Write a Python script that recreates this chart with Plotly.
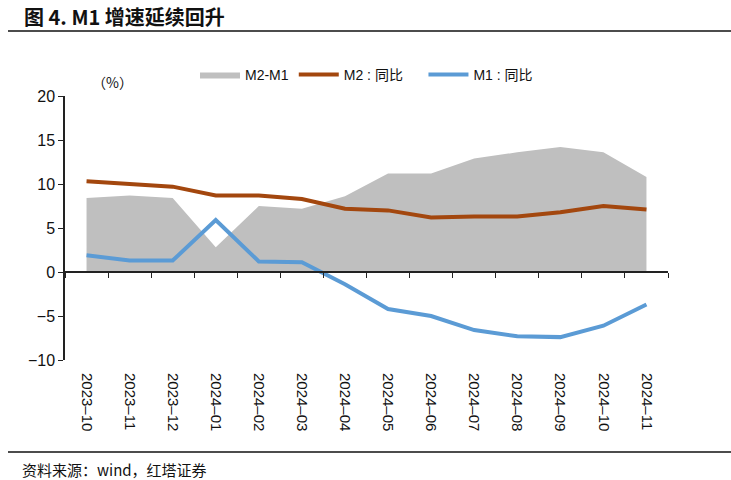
import plotly.graph_objects as go

months = ["2023-10", "2023-11", "2023-12", "2024-01", "2024-02", "2024-03", "2024-04",
          "2024-05", "2024-06", "2024-07", "2024-08", "2024-09", "2024-10", "2024-11"]
month_labels = [m.replace("-", "\u2013") for m in months]
m2_yoy = [10.3, 10.0, 9.7, 8.7, 8.7, 8.3, 7.2, 7.0, 6.2, 6.3, 6.3, 6.8, 7.5, 7.1]
m1_yoy = [1.9, 1.3, 1.3, 5.9, 1.2, 1.1, -1.4, -4.2, -5.0, -6.6, -7.3, -7.4, -6.1, -3.7]
m2_m1 = [8.4, 8.7, 8.4, 2.8, 7.5, 7.2, 8.6, 11.2, 11.2, 12.9, 13.6, 14.2, 13.6, 10.8]
y_ticks = [-10, -5, 0, 5, 10, 15, 20]
series_names = ["M2-M1", "M2\u00a0:\u00a0同比\u00a0\u00a0\u00a0\u00a0", "M1\u00a0:\u00a0同比"]

GRAY = "#BFBFBF"
BROWN = "#A3470E"
BLUE = "#5B9BD5"
AXIS = "#222222"
NUM_FONT = "Liberation Sans, Arial, sans-serif"
CJK_FONT = "Noto Sans CJK SC, sans-serif"
LEG_FONT = "Liberation Sans, Noto Sans CJK SC, sans-serif"

fig = go.Figure()
fig.add_trace(go.Scatter(x=months, y=m2_m1, name=series_names[0], mode="lines",
                         fill="tozeroy", fillcolor=GRAY, line=dict(width=0, color=GRAY)))
fig.add_trace(go.Scatter(x=months, y=m2_yoy, name=series_names[1], mode="lines",
                         line=dict(color=BROWN, width=4)))
fig.add_trace(go.Scatter(x=months, y=m1_yoy, name=series_names[2], mode="lines",
                         line=dict(color=BLUE, width=4)))
# invisible trace to carry the zero-line axis
fig.add_trace(go.Scatter(x=months, y=[None] * len(months), xaxis="x2", showlegend=False,
                         hoverinfo="skip", mode="lines"))

fig.update_layout(
    width=731, height=480,
    margin=dict(l=65, r=63, t=96, b=120, autoexpand=False),
    paper_bgcolor="white", plot_bgcolor="white",
    showlegend=True,
    legend=dict(orientation="h", x=(195 - 65) / 603, xanchor="left", y=1 + (96 - 75) / 264,
                yanchor="middle",
                font=dict(family=LEG_FONT, size=14, color="#111"),
                itemwidth=40, tracegroupgap=0, bgcolor="rgba(0,0,0,0)"),
    xaxis=dict(type="category", range=[-0.5, 13.5], showline=False, ticks="",
               tickvals=months, ticktext=month_labels,
               showgrid=False, zeroline=False, tickangle=90, ticklabelstandoff=12,
               tickfont=dict(family=NUM_FONT, size=15, color="#111")),
    xaxis2=dict(type="category", range=[-0.5, 13.5], overlaying="x", anchor="free",
                position=10 / 30, showline=True, linecolor=AXIS, linewidth=1.5,
                ticks="outside", tickson="boundaries", ticklen=5, tickcolor=AXIS,
                showticklabels=False, showgrid=False, zeroline=False),
    yaxis=dict(range=[-10, 20], tickvals=y_ticks, showline=True, linecolor=AXIS,
               linewidth=1.5, ticks="outside", ticklen=5, tickcolor=AXIS,
               showgrid=False, zeroline=False,
               tickfont=dict(family=NUM_FONT, size=16, color="#111")),
)

fig.add_annotation(text="<b>图 4. M1 增速延续回升</b>", xref="paper", yref="paper",
                   x=(22 - 65) / 603, xanchor="left", y=(360 - 16) / 264, yanchor="middle",
                   showarrow=False, font=dict(family=CJK_FONT, size=20, color="#111"))
fig.add_annotation(text="（%）", xref="paper", yref="paper", x=(90 - 65) / 603,
                   y=1 + (96 - 82) / 264, yanchor="middle", showarrow=False,
                   font=dict(family=CJK_FONT, size=14, color="#111"))
fig.add_shape(type="line", xref="paper", yref="paper", x0=(8 - 65) / 603, x1=(731 - 65) / 603,
              y0=(360 - 31) / 264, y1=(360 - 31) / 264, line=dict(color="#111", width=1.5))
fig.add_shape(type="line", xref="paper", yref="paper", x0=(8 - 65) / 603, x1=(731 - 65) / 603,
              y0=(360 - 452) / 264, y1=(360 - 452) / 264, line=dict(color="#111", width=1.5))
fig.add_annotation(text="资料来源：wind，红塔证券", xref="paper", yref="paper",
                   x=(20 - 65) / 603, xanchor="left", y=(360 - 469) / 264, yanchor="middle",
                   showarrow=False, font=dict(family=CJK_FONT, size=15, color="#111"))

fig.write_html("out.html", config={"displayModeBar": False},
               post_script="document.body.style.margin='0';document.body.style.overflow='hidden';")
